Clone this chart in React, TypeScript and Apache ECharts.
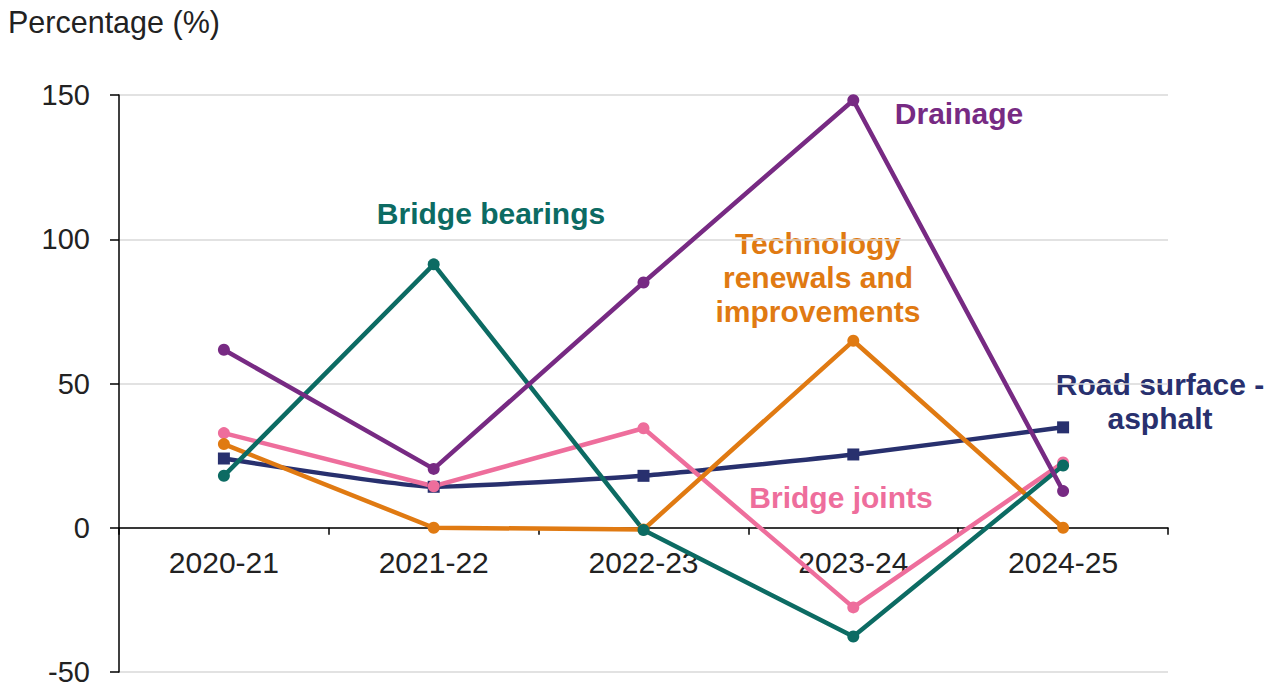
import React, { useEffect, useRef } from "react";
import * as echarts from "echarts";

const categories = ["2020-21", "2021-22", "2022-23", "2023-24", "2024-25"];
const roadSurface = [24, 14.2, 18, 25.4, 34.8];
const bridgeJoints = [32.8, 14.4, 34.5, -27.6, 22.6];
const bridgeBearings = [18, 91.3, -0.8, -37.7, 21.6];
const drainage = [61.7, 20.4, 85, 148.2, 12.7];
const technology = [29, 0, -0.6, 64.8, 0];

const yTicks = { min: -50, max: 150, interval: 50 };
const yTitle = "Percentage (%)";

const labelDrainage = "Drainage";
const labelBearings = "Bridge bearings";
const labelTechnology = "Technology\nrenewals and\nimprovements";
const labelRoad = "Road surface -\nasphalt";
const labelJoints = "Bridge joints";

const C_PURPLE = "#772a83";
const C_TEAL = "#0c6b63";
const C_ORANGE = "#e07a12";
const C_NAVY = "#28306e";
const C_PINK = "#ee6e9c";

const FONT = "'Liberation Sans', Arial, sans-serif";

const GRID_TOP = 95;
const GRID_BOTTOM = 12;
const CHART_H = 684;

export default function App() {
  const ref = useRef<HTMLDivElement>(null);
  useEffect(() => {
    if (!ref.current) return;
    const chart = echarts.init(ref.current, undefined, { renderer: "svg" });
    const plotH = CHART_H - GRID_TOP - GRID_BOTTOM;
    const zeroOffset = -(plotH * (0 - yTicks.min)) / (yTicks.max - yTicks.min);
    const lineSeries = (name: string, data: number[], color: string, opts: any = {}) => ({
      name,
      type: "line",
      data,
      symbol: "circle",
      symbolSize: 12,
      lineStyle: { color, width: 4.5 },
      itemStyle: { color },
      ...opts,
    });
    const ann = (text: string, x: number, y: number, color: string) => ({
      type: "text",
      x,
      y,
      style: {
        text,
        fill: color,
        font: `bold 30px ${FONT}`,
        align: "center",
        verticalAlign: "middle",
        lineHeight: 34,
      },
    });
    chart.setOption({
      animation: false,
      textStyle: { fontFamily: FONT },
      grid: {
        left: 119,
        right: 109,
        top: GRID_TOP,
        bottom: GRID_BOTTOM,
        containLabel: false,
        outerBoundsMode: "none",
      },
      xAxis: {
        type: "category",
        data: categories,
        boundaryGap: true,
        position: "bottom",
        offset: zeroOffset,
        axisLine: { onZero: false, lineStyle: { color: "#000", width: 1.5 } },
        axisTick: { show: true, length: 7, lineStyle: { color: "#000", width: 1.5 } },
        axisLabel: { color: "#222", fontSize: 30, margin: 20, fontFamily: FONT },
        splitLine: { show: false },
      },
      yAxis: {
        type: "value",
        min: yTicks.min,
        max: yTicks.max,
        interval: yTicks.interval,
        axisLine: { show: true, lineStyle: { color: "#000", width: 1.5 } },
        axisTick: { show: true, length: 9, lineStyle: { color: "#000", width: 1.5 } },
        axisLabel: { color: "#222", fontSize: 29, margin: 29, fontFamily: FONT },
        splitLine: { show: true, lineStyle: { color: "#d9d9d9", width: 1.5 } },
      },
      graphic: [
        {
          type: "text",
          x: 8,
          y: 22,
          style: {
            text: yTitle,
            fill: "#222",
            font: `30.5px ${FONT}`,
            align: "left",
            verticalAlign: "middle",
          },
        },
        ann(labelDrainage, 959, 113, C_PURPLE),
        ann(labelBearings, 491, 213, C_TEAL),
        ann(labelTechnology, 818, 277, C_ORANGE),
        ann(labelRoad, 1160, 401, C_NAVY),
        ann(labelJoints, 841, 497, C_PINK),
      ],
      series: [
        lineSeries("Road surface - asphalt", roadSurface, C_NAVY, {
          symbol: "rect",
          symbolSize: 12,
          smooth: 0.15,
        }),
        lineSeries("Bridge joints", bridgeJoints, C_PINK),
        lineSeries("Technology renewals and improvements", technology, C_ORANGE),
        lineSeries("Bridge bearings", bridgeBearings, C_TEAL),
        lineSeries("Drainage", drainage, C_PURPLE),
      ],
    });
    return () => chart.dispose();
  }, []);
  return (
    <div
      ref={ref}
      style={{ position: "fixed", left: 0, top: 0, width: 1277, height: 684, background: "#fff" }}
    />
  );
}
